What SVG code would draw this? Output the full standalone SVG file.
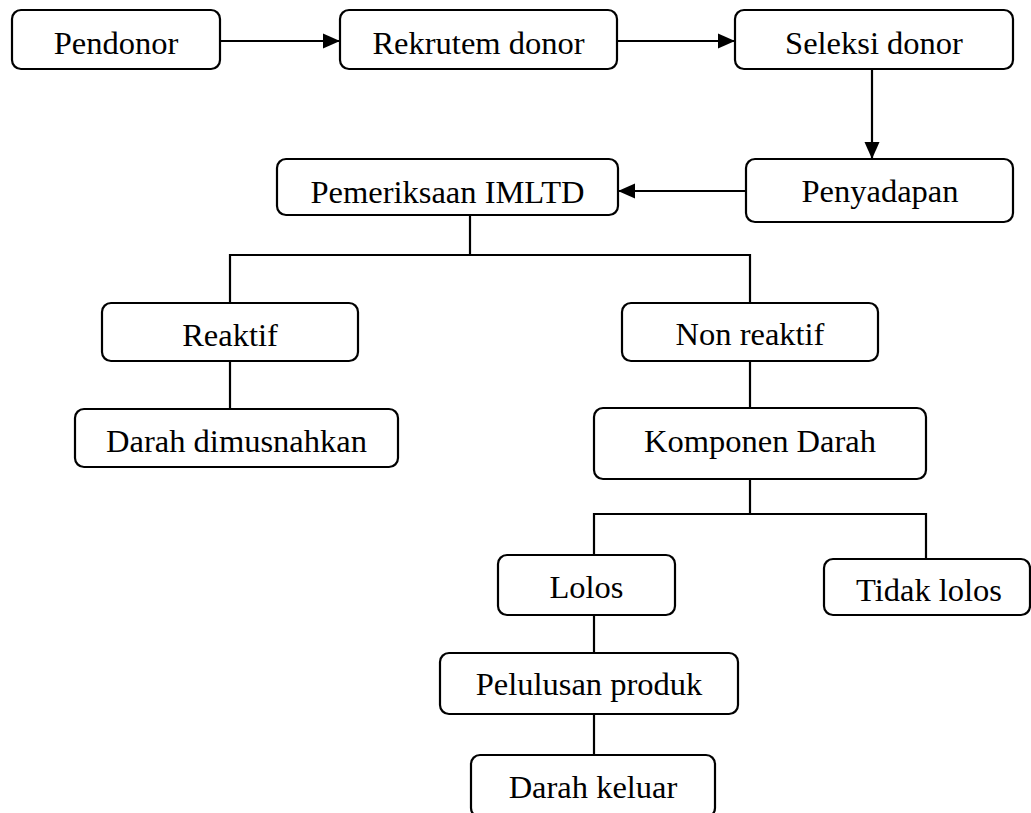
<svg xmlns="http://www.w3.org/2000/svg" width="1031" height="813" viewBox="0 0 1031 813">
<style>
.box{fill:#fff;stroke:#000;stroke-width:2.2}
.lbl{font-family:"Liberation Serif","Times New Roman",serif;font-size:32.5px;fill:#000;text-anchor:middle}
.ln{fill:none;stroke:#000;stroke-width:2.2}
</style>
<defs>
<marker id="ah" markerUnits="userSpaceOnUse" markerWidth="17" markerHeight="16" viewBox="0 0 17 16" refX="17" refY="8" orient="auto">
<path d="M0,0.5 L17,8 L0,15.5 Z" fill="#000"/>
</marker>
</defs>
<rect width="1031" height="813" fill="#fff"/>
<g id="connectors">
<line class="ln" x1="220" y1="41" x2="340" y2="41" marker-end="url(#ah)"/>
<line class="ln" x1="617" y1="41" x2="735" y2="41" marker-end="url(#ah)"/>
<line class="ln" x1="872" y1="69" x2="872" y2="159" marker-end="url(#ah)"/>
<line class="ln" x1="746" y1="191" x2="618" y2="191" marker-end="url(#ah)"/>
<polyline class="ln" points="470,215 470,255"/>
<polyline class="ln" points="230,303 230,255 750,255 750,303"/>
<line class="ln" x1="230" y1="361" x2="230" y2="409"/>
<line class="ln" x1="750" y1="361" x2="750" y2="408"/>
<line class="ln" x1="750" y1="467" x2="750" y2="514"/>
<polyline class="ln" points="594,555 594,514 926,514 926,559"/>
<line class="ln" x1="594" y1="615" x2="594" y2="653"/>
<line class="ln" x1="594" y1="714" x2="594" y2="755"/>
</g>
<g id="n-pendonor"><rect class="box" x="12" y="10" width="208" height="59" rx="9"/><text class="lbl" x="116" y="54">Pendonor</text></g>
<g id="n-rekrutem"><rect class="box" x="340" y="10" width="277" height="59" rx="9"/><text class="lbl" x="478.5" y="54">Rekrutem donor</text></g>
<g id="n-seleksi"><rect class="box" x="735" y="10" width="278" height="59" rx="9"/><text class="lbl" x="874" y="54">Seleksi donor</text></g>
<g id="n-penyadapan"><rect class="box" x="746" y="159" width="267" height="63" rx="9"/><text class="lbl" x="880" y="202">Penyadapan</text></g>
<g id="n-imltd"><rect class="box" x="277" y="159" width="341" height="56" rx="9"/><text class="lbl" x="447.5" y="203">Pemeriksaan IMLTD</text></g>
<g id="n-reaktif"><rect class="box" x="102" y="303" width="256" height="58" rx="9"/><text class="lbl" x="230" y="346">Reaktif</text></g>
<g id="n-dimusnahkan"><rect class="box" x="75" y="409" width="323" height="58" rx="9"/><text class="lbl" x="236.5" y="452">Darah dimusnahkan</text></g>
<g id="n-nonreaktif"><rect class="box" x="622" y="303" width="256" height="58" rx="9"/><text class="lbl" x="750" y="345">Non reaktif</text></g>
<g id="n-komponen"><rect class="box" x="594" y="408" width="332" height="71" rx="9"/><text class="lbl" x="760" y="452">Komponen Darah</text></g>
<g id="n-lolos"><rect class="box" x="498" y="555" width="177" height="60" rx="9"/><text class="lbl" x="586.5" y="598">Lolos</text></g>
<g id="n-tidaklolos"><rect class="box" x="824" y="559" width="206" height="56" rx="9"/><text class="lbl" x="929" y="601">Tidak lolos</text></g>
<g id="n-pelulusan"><rect class="box" x="440" y="653" width="298" height="61" rx="9"/><text class="lbl" x="589" y="695">Pelulusan produk</text></g>
<g id="n-keluar"><rect class="box" x="471" y="755" width="244" height="62" rx="9"/><text class="lbl" x="593" y="798">Darah keluar</text></g>
</svg>
